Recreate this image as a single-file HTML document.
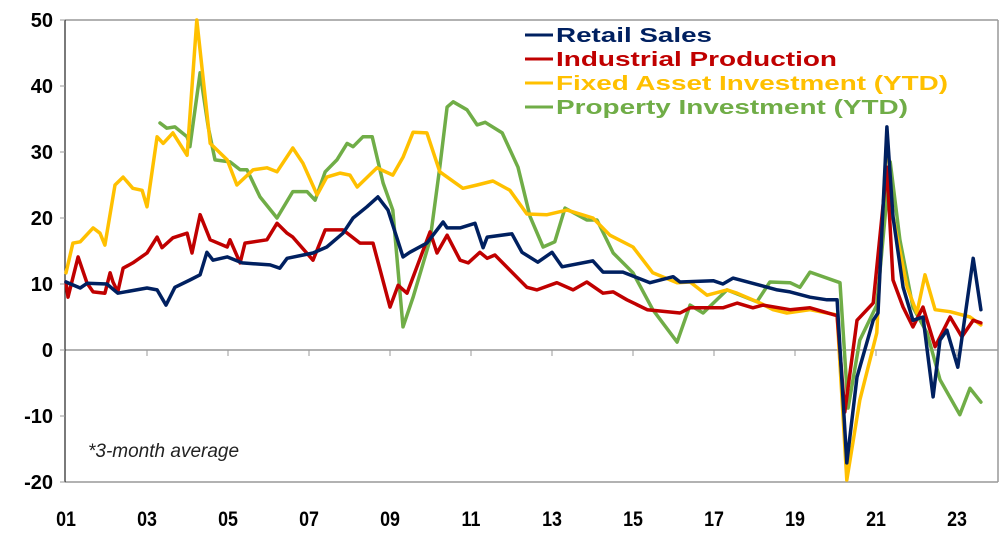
<!DOCTYPE html>
<html><head><meta charset="utf-8">
<style>
html,body{margin:0;padding:0;background:#fff;}
svg{display:block;font-family:"Liberation Sans",Arial,sans-serif;}
</style></head>
<body>
<svg id="chart" width="1006" height="540" viewBox="0 0 1006 540" xmlns="http://www.w3.org/2000/svg">
<g id="frame"></g>
<g id="series"></g>
<g id="legend"></g>
<text x="88" y="457" font-size="19" font-style="italic" fill="#222">*3-month average</text>
</svg>
<script>
const yTicks = [50, 40, 30, 20, 10, 0, -10, -20];
const yTickLabels = ["50","40","30","20","10","0","-10","-20"];
const xTickYears = [2001,2003,2005,2007,2009,2011,2013,2015,2017,2019,2021,2023];
const xTickLabels = ["01","03","05","07","09","11","13","15","17","19","21","23"];

const retailDates = [2001.0,2001.35,2001.52,2002.01,2002.28,2003.0,2003.25,2003.47,2003.69,2004.06,2004.31,2004.48,2004.63,2004.98,2005.35,2006.04,2006.28,2006.46,2007.1,2007.44,2007.84,2008.09,2008.43,2008.7,2008.95,2009.32,2009.49,2009.91,2010.31,2010.41,2010.73,2011.1,2011.3,2011.4,2012.01,2012.26,2012.65,2013.0,2013.25,2014.01,2014.26,2014.75,2015.42,2015.99,2016.16,2016.98,2017.22,2017.47,2018.56,2018.88,2019.37,2019.79,2020.04,2020.28,2020.53,2020.93,2021.05,2021.27,2021.42,2021.67,2021.91,2022.16,2022.41,2022.58,2022.75,2023.02,2023.4,2023.59];
const retailValues = [10.3,9.4,10.1,10,8.6,9.4,9.1,6.8,9.5,10.6,11.4,14.8,13.6,14.1,13.2,12.9,12.4,13.9,14.7,15.6,17.7,20,21.7,23.2,21.2,14.1,14.8,16.2,19.4,18.5,18.5,19.2,15.5,17.1,17.6,14.8,13.3,14.8,12.6,13.5,11.8,11.8,10.2,11.1,10.3,10.5,10,10.9,9.1,8.8,8.0,7.6,7.6,-17.1,-4.1,4.5,5.6,33.8,20.2,9.5,4.5,5,-7.1,1.5,3,-2.6,13.9,6.1];

const industryDates = [2001.0,2001.05,2001.3,2001.52,2001.67,2001.96,2002.09,2002.16,2002.28,2002.41,2002.65,2003.0,2003.25,2003.37,2003.64,2003.99,2004.11,2004.31,2004.56,2004.98,2005.05,2005.3,2005.42,2005.96,2006.21,2006.46,2006.6,2007.1,2007.4,2007.84,2008.26,2008.58,2009.0,2009.2,2009.42,2009.99,2010.16,2010.41,2010.73,2010.93,2011.22,2011.4,2011.59,2012.38,2012.63,2013.12,2013.52,2013.86,2014.26,2014.51,2014.85,2015.35,2016.16,2016.41,2017.22,2017.57,2017.96,2018.21,2018.88,2019.37,2020.04,2020.23,2020.53,2020.93,2021.27,2021.42,2021.67,2021.91,2022.16,2022.46,2022.83,2023.12,2023.4,2023.59];
const industryValues = [10.3,8.0,14.1,10.1,8.8,8.6,11.7,10.3,8.8,12.4,13.2,14.7,17.1,15.5,17,17.7,14.7,20.5,16.7,15.6,16.7,13.2,16.2,16.7,19.2,17.7,17.1,13.6,18.2,18.2,16.2,16.2,6.5,9.8,8.6,17.9,14.7,17.4,13.6,13.2,14.8,13.9,14.4,9.5,9.1,10.2,9.1,10.3,8.6,8.8,7.6,6.1,5.6,6.4,6.4,7.1,6.4,6.8,6.1,6.4,5.2,-9.4,4.5,7.1,27.7,10.6,6.5,3.5,6.5,0.5,5,2,4.5,4.1];

const faiDates = [2001.0,2001.17,2001.35,2001.67,2001.84,2001.96,2002.21,2002.41,2002.65,2002.88,2003.0,2003.25,2003.4,2003.64,2003.99,2004.23,2004.56,2004.98,2005.22,2005.62,2005.96,2006.21,2006.6,2006.85,2007.2,2007.44,2007.77,2008.01,2008.19,2008.68,2009.07,2009.32,2009.57,2009.91,2010.23,2010.8,2011.15,2011.54,2011.96,2012.38,2012.88,2013.37,2014.01,2014.43,2015.0,2015.49,2016.09,2016.41,2016.83,2017.32,2017.57,2018.14,2018.46,2018.8,2019.37,2020.04,2020.28,2020.6,2021.02,2021.27,2021.42,2021.77,2022.01,2022.21,2022.46,2022.83,2023.32,2023.59];
const faiValues = [11.7,16.2,16.4,18.5,17.7,15.9,25,26.2,24.5,24.2,21.7,32.3,31.3,32.9,29.5,50,31.3,28.8,25,27.3,27.6,27,30.6,28.3,23.5,26.2,26.8,26.5,24.7,27.6,26.5,29.2,33,32.9,27,24.5,25,25.6,24.2,20.6,20.5,21.2,20,17.4,15.6,11.7,10.2,10.3,8.3,9.1,8.6,7.1,6.1,5.6,6.1,5.3,-19.7,-7.6,2.6,32.9,20.2,9.5,5.6,11.4,6.1,5.8,5,3.8];

const propertyDates = [2003.32,2003.49,2003.69,2003.99,2004.06,2004.31,2004.51,2004.68,2005.05,2005.3,2005.47,2005.79,2006.21,2006.6,2006.95,2007.15,2007.4,2007.69,2007.94,2008.09,2008.33,2008.56,2008.83,2009.07,2009.32,2009.57,2009.99,2010.23,2010.41,2010.56,2010.9,2011.15,2011.35,2011.77,2012.16,2012.46,2012.78,2013.07,2013.32,2013.86,2014.11,2014.51,2015.0,2015.49,2016.09,2016.41,2016.73,2017.32,2018.06,2018.38,2018.88,2019.12,2019.37,2020.11,2020.31,2020.6,2021.02,2021.35,2021.59,2021.91,2022.26,2022.58,2023.07,2023.32,2023.59];
const propertyValues = [34.4,33.6,33.8,32.3,30.8,42,33.8,28.8,28.5,27.3,27.3,23.2,20,24,24,22.7,27,28.8,31.3,30.8,32.3,32.3,25.3,21.2,3.5,8,16.7,27.7,36.8,37.6,36.4,34.1,34.5,32.9,27.7,20.2,15.6,16.4,21.5,19.7,19.7,14.7,11.7,6.1,1.2,6.8,5.6,9.1,7.3,10.3,10.2,9.5,11.8,10.2,-8.8,1.5,6.8,28.5,16.7,6.5,2.6,-4.5,-9.8,-5.8,-7.9];

const NS = "http://www.w3.org/2000/svg";
const L = 65, R = 998, T = 20, B = 482;
function xScale(yr){ return 66 + (yr - 2001) * 40.5; }
function yScale(v){ return T + (50 - v) * (B - T) / 70; }
function mk(tag, attrs, parent){ const e = document.createElementNS(NS, tag); for (const k in attrs) e.setAttribute(k, attrs[k]); parent.appendChild(e); return e; }

const frame = document.getElementById('frame');
// plot frame
let el = mk('line',{x1:L,y1:T,x2:R,y2:T,stroke:'#999','stroke-width':1.5},frame);


el = mk('line',{x1:R,y1:T,x2:R,y2:B,stroke:'#999','stroke-width':1.5},frame);


el = mk('line',{x1:L,y1:B,x2:R,y2:B,stroke:'#999','stroke-width':1.5},frame);


el = mk('line',{x1:L,y1:yScale(0),x2:R,y2:yScale(0),stroke:'#999','stroke-width':1.5},frame);


el = mk('line',{x1:L,y1:T,x2:L,y2:B,stroke:'#222','stroke-width':1.2},frame);



yTicks.forEach((v,i)=>{
  const y = yScale(v);
  const t = mk('line',{x1:L-5,y1:y,x2:L,y2:y,stroke:'#999','stroke-width':1},frame);
  
  
  const tx = mk('text',{x:L-12,y:y+7,'text-anchor':'end','font-size':20,'font-weight':'bold',fill:'#000'},frame);
  tx.textContent = yTickLabels[i];
  
  
});
xTickYears.forEach((yr,i)=>{
  const x = xScale(yr);
  if (i > 0) {
    const t = mk('line',{x1:x,y1:yScale(0),x2:x,y2:yScale(0)+6,stroke:'#999','stroke-width':1},frame);
    
    
  }
  const tx = mk('text',{x:x,y:526,'text-anchor':'middle','font-size':21,'font-weight':'bold',fill:'#000',transform:`translate(${x} 0) scale(0.85 1) translate(${-x} 0)`},frame);
  tx.textContent = xTickLabels[i];
  
  
});

const series = [
  {name:'property-investment-line', dates:propertyDates, values:propertyValues, color:'#70ad47'},
  {name:'fixed-asset-investment-line', dates:faiDates, values:faiValues, color:'#ffc000'},
  {name:'industrial-production-line', dates:industryDates, values:industryValues, color:'#c00000'},
  {name:'retail-sales-line', dates:retailDates, values:retailValues, color:'#002060'}
];
const sg = document.getElementById('series');
series.forEach(s=>{
  const d = s.dates.map((yr,i)=>(i?'L':'M')+xScale(yr).toFixed(1)+','+yScale(s.values[i]).toFixed(1)).join(' ');
  const p = mk('path',{d:d,fill:'none',stroke:s.color,'stroke-width':3.5,'stroke-linejoin':'round','stroke-linecap':'round'},sg);
  
  
});

const legendLabels = ['Retail Sales','Industrial Production','Fixed Asset Investment (YTD)','Property Investment (YTD)'];
const legendColors = ['#002060','#c00000','#ffc000','#70ad47'];
const legendWidths = [156,281,392,352];
const lg = document.getElementById('legend');
legendLabels.forEach((lab,i)=>{
  const cy = 35 + i*24;
  const g = mk('g',{},lg);
  
  
  mk('line',{x1:525,y1:cy,x2:553,y2:cy,stroke:legendColors[i],'stroke-width':3},g);
  const t = mk('text',{x:556,y:cy+7,'font-size':20,'font-weight':'bold',fill:legendColors[i],textLength:legendWidths[i],lengthAdjust:'spacingAndGlyphs'},g);
  t.textContent = lab;
});
</script>
</body></html>
